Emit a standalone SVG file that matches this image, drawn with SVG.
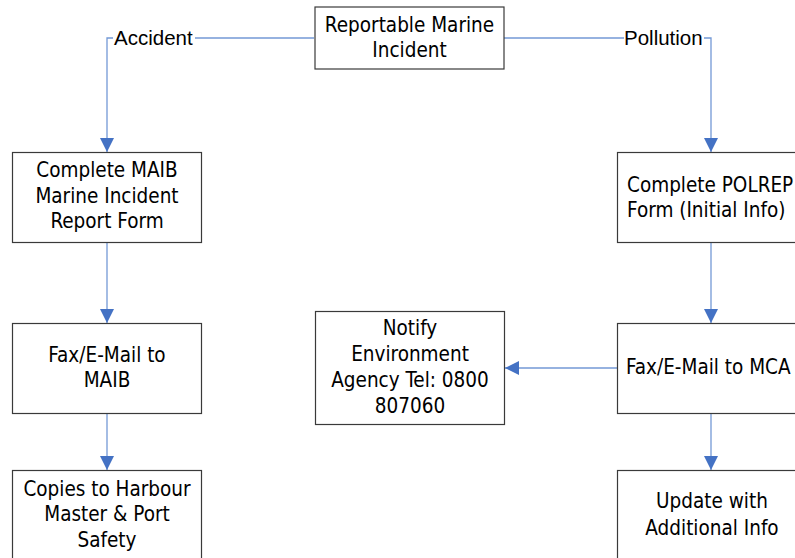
<svg xmlns="http://www.w3.org/2000/svg" width="795" height="558" viewBox="0 0 795 558">
<defs>
<style>
.box{fill:#fff;stroke:#3a3a3a;stroke-width:1.2}
.t,.ts{font-family:"DejaVu Sans Condensed","DejaVu Sans",Verdana,sans-serif;font-stretch:condensed;font-size:20.5px;fill:#000}
.t{text-anchor:middle}
.lbl{font-family:"Liberation Sans",Arial,sans-serif;font-size:20.5px;fill:#000}
.c{fill:none;stroke:#7399d6;stroke-width:1.3}
</style>
<marker id="ah" viewBox="0 0 14 14" refX="14" refY="7" markerWidth="14" markerHeight="14" markerUnits="userSpaceOnUse" orient="auto">
<path d="M0,0 L14,7 L0,14 Z" fill="#4472c4"/>
</marker>
</defs>
<rect width="795" height="558" fill="#fff"/>
<g id="connectors">
<path class="c" d="M314,38 H195"/>
<path class="c" d="M113,38 H107 V152" marker-end="url(#ah)"/>
<path class="c" d="M504,38 H624"/>
<path class="c" d="M704,38 H711 V152" marker-end="url(#ah)"/>
<path class="c" d="M107,242 V323" marker-end="url(#ah)"/>
<path class="c" d="M107,413 V470" marker-end="url(#ah)"/>
<path class="c" d="M711,242 V323" marker-end="url(#ah)"/>
<path class="c" d="M711,413 V470" marker-end="url(#ah)"/>
<path class="c" d="M617,368 H505" marker-end="url(#ah)"/>
<text class="lbl" x="114" y="45">Accident</text>
<text class="lbl" x="624" y="45">Pollution</text>
</g>
<g id="n-top">
<rect class="box" x="315" y="7" width="189" height="62"/>
<text class="t" x="409.5" y="32">Reportable Marine</text>
<text class="t" x="409.5" y="57">Incident</text>
</g>
<g id="n-maib-form">
<rect class="box" x="12.5" y="152.5" width="189" height="90"/>
<text class="t" x="107" y="177">Complete MAIB</text>
<text class="t" x="107" y="203">Marine Incident</text>
<text class="t" x="107" y="228">Report Form</text>
</g>
<g id="n-maib-fax">
<rect class="box" x="12.5" y="323.5" width="189" height="90"/>
<text class="t" x="107" y="362">Fax/E-Mail to</text>
<text class="t" x="107" y="387">MAIB</text>
</g>
<g id="n-copies">
<rect class="box" x="12.5" y="470.5" width="189" height="100"/>
<text class="t" x="107" y="496">Copies to Harbour</text>
<text class="t" x="107" y="521">Master &amp; Port</text>
<text class="t" x="107" y="547">Safety</text>
</g>
<g id="n-notify">
<rect class="box" x="315.5" y="311.5" width="189" height="113"/>
<text class="t" x="410" y="335">Notify</text>
<text class="t" x="410" y="361">Environment</text>
<text class="t" x="410" y="387">Agency Tel: 0800</text>
<text class="t" x="410" y="413">807060</text>
</g>
<g id="n-polrep">
<rect class="box" x="617.5" y="152.5" width="190" height="90"/>
<text class="ts" x="627" y="192">Complete POLREP</text>
<text class="ts" x="627" y="217">Form (Initial Info)</text>
</g>
<g id="n-mca-fax">
<rect class="box" x="617.5" y="323.5" width="190" height="90"/>
<text class="ts" x="626" y="374">Fax/E-Mail to MCA</text>
</g>
<g id="n-update">
<rect class="box" x="617.5" y="470.5" width="190" height="100"/>
<text class="t" x="712" y="508">Update with</text>
<text class="t" x="712" y="535">Additional Info</text>
</g>
</svg>
